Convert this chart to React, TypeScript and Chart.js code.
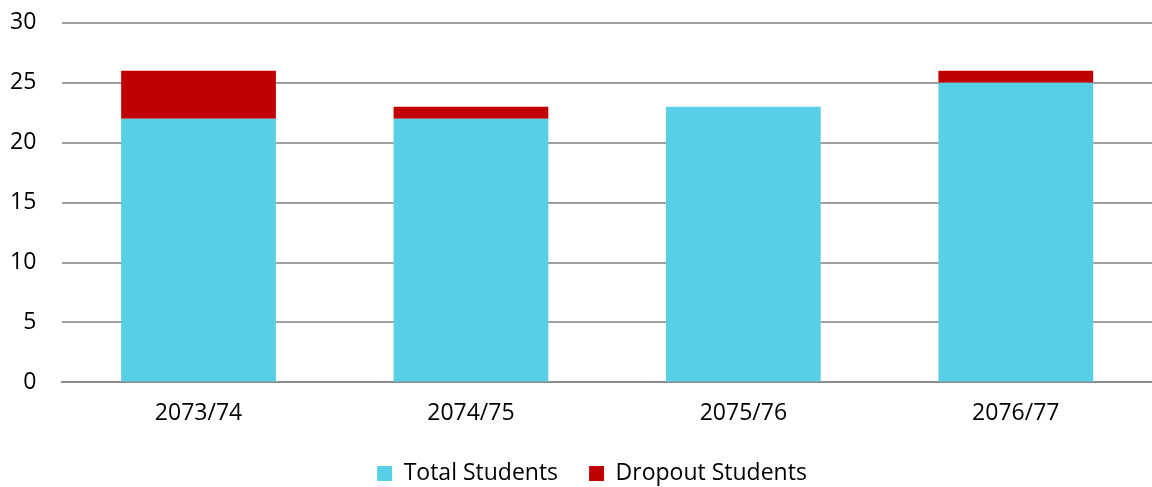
import React, { useEffect, useRef } from "react";
import { Chart, registerables } from "chart.js";

Chart.register(...registerables);

const categories = ["2073/74", "2074/75", "2075/76", "2076/77"];
const totalStudents = [22, 22, 23, 25];
const dropoutStudents = [4, 1, 0, 1];
const yTicks = [0, 5, 10, 15, 20, 25, 30];

const SHIFT = 17;
const LEGEND_HEIGHT = 51;
const LEGEND_DY = -5;
const LEGEND_DX = 24;

const legendPlacementPlugin = {
  id: "legendPlacement",
  beforeLayout(chart: any) {
    const legend = chart.legend;
    if (legend && !legend.__patched) {
      const orig = legend.fit;
      legend.fit = function () {
        orig.call(this);
        this.height = LEGEND_HEIGHT;
      };
      legend.__patched = true;
    }
  },
  afterLayout(chart: any) {
    const legend = chart.legend;
    if (legend) {
      legend.top += LEGEND_DY;
      legend.left += LEGEND_DX;
      legend.right += LEGEND_DX;
    }
  },
};

export default function App() {
  const ref = useRef<HTMLCanvasElement | null>(null);
  useEffect(() => {
    document.body.style.margin = "0";
    document.body.style.overflow = "hidden";
    const ctx = ref.current!;
    const font = { family: "'Open Sans', 'Noto Sans', sans-serif", size: 23 };
    const chart = new Chart(ctx, {
      type: "bar",
      data: {
        labels: categories,
        datasets: [
          {
            label: "Total Students",
            data: totalStudents,
            backgroundColor: "#57CFE6",
            barPercentage: 0.568,
            categoryPercentage: 1,
          },
          {
            label: "Dropout Students",
            data: dropoutStudents,
            backgroundColor: "#C00000",
            barPercentage: 0.568,
            categoryPercentage: 1,
          },
        ],
      },
      plugins: [legendPlacementPlugin],
      options: {
        responsive: false,
        animation: false,
        layout: { padding: { top: 0, right: 0, left: -16, bottom: 0 } },
        plugins: {
          legend: {
            position: "bottom",
            labels: {
              boxWidth: 15,
              boxHeight: 15,
              padding: 31,
              color: "#000",
              font,
            },
          },
          tooltip: { enabled: false },
        },
        scales: {
          x: {
            stacked: true,
            grid: { display: false },
            border: { display: true, color: "#8C8C8C", width: 2 },
            ticks: { color: "#000", font, padding: 9 },
          },
          y: {
            stacked: true,
            min: 0,
            max: 30,
            afterBuildTicks: (axis: any) => {
              axis.ticks = yTicks.map((v) => ({ value: v }));
            },
            grid: { color: "#A0A0A0", lineWidth: 2, drawTicks: false },
            border: { display: false },
            ticks: { color: "#000", font, padding: 26 },
          },
        },
      },
    });
    return () => chart.destroy();
  }, []);
  return (
    <canvas
      ref={ref}
      width={1152}
      height={487 + SHIFT}
      style={{ display: "block", marginTop: -SHIFT }}
    />
  );
}
